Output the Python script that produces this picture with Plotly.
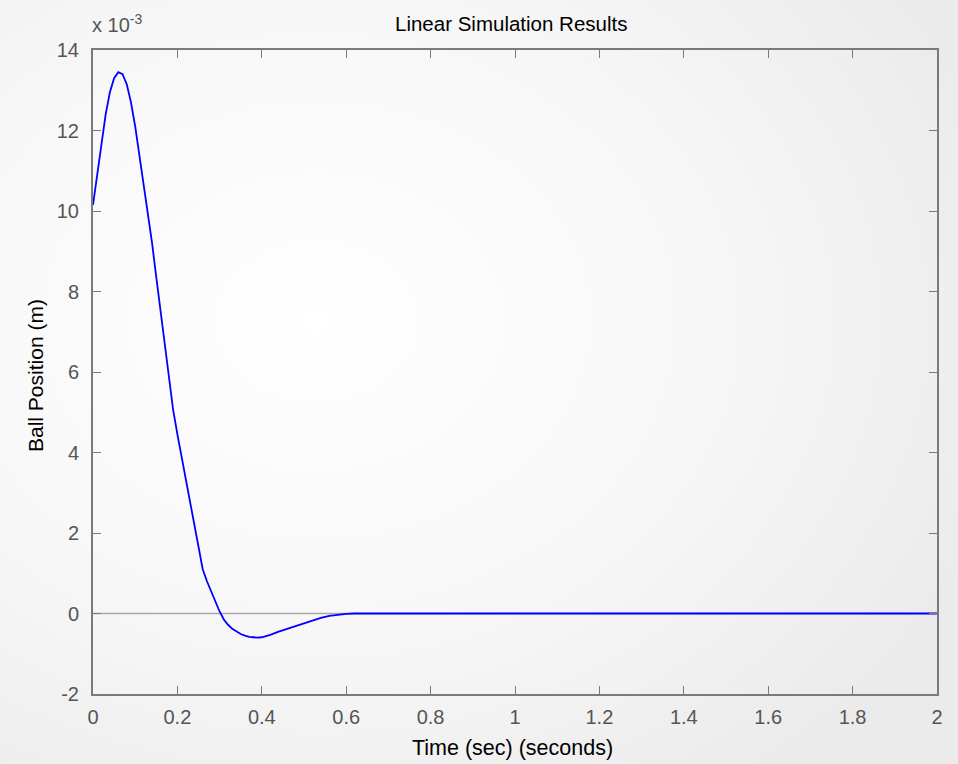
import plotly.graph_objects as go
import urllib.parse

# Simulated ball position response (time in s, position in units of 1e-3 m)
time_s = [0.00, 0.01, 0.02, 0.03, 0.04, 0.05, 0.06, 0.07, 0.08, 0.09,
          0.10, 0.11, 0.12, 0.13, 0.14, 0.15, 0.16, 0.17, 0.18, 0.19,
          0.20, 0.21, 0.22, 0.23, 0.24, 0.25, 0.26, 0.27, 0.28, 0.29,
          0.30, 0.31, 0.32, 0.33, 0.34, 0.35, 0.36, 0.37, 0.38, 0.39,
          0.40, 0.42, 0.44, 0.46, 0.48, 0.50, 0.52, 0.54, 0.56, 0.58,
          0.60, 0.62, 0.80, 1.00, 1.20, 1.40, 1.60, 1.80, 2.00]
position_mm = [10.15, 10.90, 11.70, 12.40, 12.95, 13.30, 13.45, 13.40, 13.15, 12.70,
               12.10, 11.40, 10.70, 10.00, 9.20, 8.35, 7.50, 6.65, 5.80, 5.05,
               4.45, 3.90, 3.35, 2.80, 2.25, 1.65, 1.10, 0.80, 0.55, 0.28,
               0.05, -0.15, -0.28, -0.38, -0.45, -0.51, -0.55, -0.58, -0.59, -0.60,
               -0.59, -0.53, -0.45, -0.38, -0.31, -0.24, -0.17, -0.11, -0.06, -0.03,
               -0.01, 0.00, 0.00, 0.00, 0.00, 0.00, 0.00, 0.00, 0.00]

x_ticks = [0, 0.2, 0.4, 0.6, 0.8, 1, 1.2, 1.4, 1.6, 1.8, 2]
x_tick_text = ["0", "0.2", "0.4", "0.6", "0.8", "1", "1.2", "1.4", "1.6", "1.8", "2"]
y_ticks = [-2, 0, 2, 4, 6, 8, 10, 12, 14]
y_tick_text = ["-2", "0", "2", "4", "6", "8", "10", "12", "14"]

FONT = "Liberation Sans, Arial, sans-serif"
TICK_COLOR = "#555555"
AXIS_COLOR = "#7a7a7a"

# soft radial backdrop for the whole figure
svg = (
    "<svg xmlns='http://www.w3.org/2000/svg' width='958' height='764'>"
    "<defs><radialGradient id='g' cx='0.33' cy='0.42' r='0.75'>"
    "<stop offset='0' stop-color='#ffffff'/>"
    "<stop offset='0.55' stop-color='#f7f7f7'/>"
    "<stop offset='1' stop-color='#ebebeb'/>"
    "</radialGradient></defs>"
    "<rect width='958' height='764' fill='url(#g)'/></svg>"
)
bg_src = "data:image/svg+xml;charset=utf-8," + urllib.parse.quote(svg)

fig = go.Figure()

fig.add_trace(go.Scatter(
    x=time_s, y=position_mm, mode="lines",
    line=dict(color="#0000ff", width=1.8),
    showlegend=False, hoverinfo="x+y",
))

L, R, T, B = 93, 21, 50, 70
W, H = 958, 764
pw, ph = W - L - R, H - T - B


def px_to_paper_y(py):
    return (H - B - py) / ph


def px_to_paper_x(px):
    return (px - L) / pw


fig.update_layout(
    width=W, height=H,
    margin=dict(l=L, r=R, t=T, b=B, pad=0),
    paper_bgcolor="#f0f0f0",
    plot_bgcolor="rgba(0,0,0,0)",
    font=dict(family=FONT, size=20, color="#000000"),
    images=[dict(source=bg_src, xref="paper", yref="paper",
                 x=-L / pw, y=1 + T / ph, sizex=W / pw, sizey=H / ph,
                 xanchor="left", yanchor="top", sizing="stretch", layer="below")],
    shapes=[dict(type="line", xref="paper", yref="y", x0=0, x1=1, y0=0, y1=0,
                 line=dict(color="#a8a8a8", width=1.4), layer="below")],
    annotations=[
        dict(text="Linear Simulation Results", xref="paper", yref="paper",
             x=px_to_paper_x(511), y=px_to_paper_y(24), xanchor="center",
             yanchor="middle", showarrow=False,
             font=dict(family=FONT, size=20.5, color="#000000")),
        dict(text="Time (sec) (seconds)", xref="paper", yref="paper",
             x=px_to_paper_x(512), y=px_to_paper_y(748), xanchor="center",
             yanchor="middle", showarrow=False,
             font=dict(family=FONT, size=21.5, color="#000000")),
        dict(text="Ball Position (m)", xref="paper", yref="paper",
             x=px_to_paper_x(35), y=px_to_paper_y(376), xanchor="center",
             yanchor="middle", showarrow=False, textangle=-90,
             font=dict(family=FONT, size=21, color="#000000")),
        dict(text="x 10<sup>-3</sup>", xref="paper", yref="paper",
             x=px_to_paper_x(90), y=px_to_paper_y(38), xanchor="left",
             yanchor="bottom", showarrow=False,
             font=dict(family=FONT, size=20, color=TICK_COLOR)),
    ],
    xaxis=dict(
        range=[0, 2], tickvals=x_ticks, ticktext=x_tick_text,
        ticks="inside", ticklen=8, tickwidth=1.2, tickcolor=AXIS_COLOR,
        showline=True, linecolor=AXIS_COLOR, linewidth=2, mirror="allticks",
        showgrid=False, zeroline=False, ticklabelstandoff=4,
        tickfont=dict(family=FONT, size=20, color=TICK_COLOR),
    ),
    yaxis=dict(
        range=[-2, 14], tickvals=y_ticks, ticktext=y_tick_text,
        ticks="inside", ticklen=8, tickwidth=1.2, tickcolor=AXIS_COLOR,
        showline=True, linecolor=AXIS_COLOR, linewidth=2, mirror="allticks",
        showgrid=False, zeroline=False, ticklabelstandoff=8,
        tickfont=dict(family=FONT, size=20, color=TICK_COLOR),
    ),
)

fig.write_html("out.html")
